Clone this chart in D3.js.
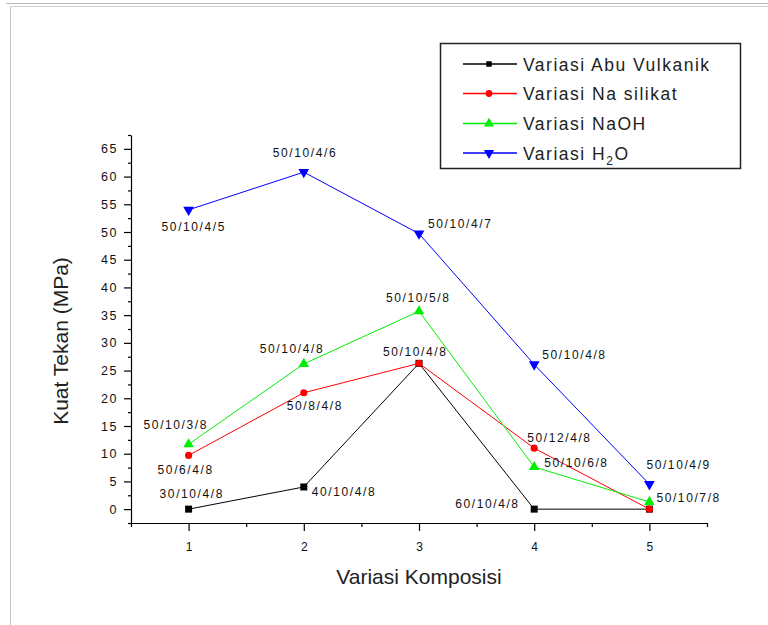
<!DOCTYPE html>
<html>
<head>
<meta charset="utf-8">
<script src="https://cdn.jsdelivr.net/npm/d3@7"></script>
<style>
  body { margin: 0; background: #fff; }
  svg { display: block; font-family: "Liberation Sans", Arial, sans-serif; }
  .axis path, .axis line { stroke: #000; stroke-width: 1.2; }
</style>
</head>
<body>
<svg id="chart" width="768" height="625"></svg>
<script>
// data (Kuat Tekan, MPa)
var komposisi = [1, 2, 3, 4, 5];
var abuVulkanik = [0, 4.0, 26.3, 0, 0];
var naSilikat = [9.7, 21.0, 26.3, 11.0, 0];
var naOH = [11.7, 26.2, 35.7, 7.6, 1.3];
var h2o = [54.0, 60.8, 49.7, 26.1, 4.5];

var abuLabels = ["30/10/4/8", "40/10/4/8", "", "60/10/4/8", ""];
var naSilikatLabels = ["50/6/4/8", "50/8/4/8", "50/10/4/8", "50/12/4/8", ""];
var naOHLabels = ["50/10/3/8", "50/10/4/8", "50/10/5/8", "50/10/6/8", "50/10/7/8"];
var h2oLabels = ["50/10/4/5", "50/10/4/6", "50/10/4/7", "50/10/4/8", "50/10/4/9"];

var namaSeri = ["Variasi Abu Vulkanik", "Variasi Na silikat", "Variasi NaOH", "Variasi H2O"];
var yTickValues = [0, 5, 10, 15, 20, 25, 30, 35, 40, 45, 50, 55, 60, 65];
var xTickValues = [1, 2, 3, 4, 5];

// label placement (pixels from the point, text start / baseline)
var abuOffsets = [[-29, -11], [8, 9], null, [-79, -1], null];
var naSilikatOffsets = [[-31, 19], [-17, 17], [-36, -7], [-7, -6], null];
var naOHOffsets = [[-45, -15], [-44, -11], [-33, -9], [10, 0], [7, 0]];
var h2oOffsets = [[-27, 21], [-31, -15], [9, -6], [8, -5], [-3, -15]];

var svg = d3.select("#chart");

// grey frame of the original picture
svg.append("line").attr("x1", 6).attr("x2", 768).attr("y1", 3.5).attr("y2", 3.5)
  .attr("stroke", "#b8b8b8").attr("stroke-width", 1);
svg.append("line").attr("x1", 10.5).attr("x2", 768).attr("y1", 6.5).attr("y2", 6.5)
  .attr("stroke", "#cfcfcf").attr("stroke-width", 1);
svg.append("line").attr("x1", 10.5).attr("x2", 10.5).attr("y1", 6.5).attr("y2", 625)
  .attr("stroke", "#c4c4c4").attr("stroke-width", 1);

var x = d3.scaleLinear().domain([0.5, 5.5]).range([131, 707]);
var y = d3.scaleLinear().domain([-2.5, 67.5]).range([523, 135]);

// y axis
var yMinor = d3.range(-2.5, 68, 2.5).filter(function(v) { return v % 5 !== 0; });
svg.append("g").attr("class", "axis").attr("transform", "translate(131,0)")
  .call(d3.axisLeft(y).tickValues(yMinor).tickSize(3).tickSizeOuter(0).tickFormat(""));
var gy = svg.append("g").attr("class", "axis").attr("transform", "translate(131,0)")
  .call(d3.axisLeft(y).tickValues(yTickValues).tickSize(7).tickSizeOuter(0).tickFormat(d3.format("d")));
gy.select(".domain").remove();
gy.selectAll("text")
  .attr("x", -13)
  .attr("font-size", 12.5)
  .attr("letter-spacing", "1.6px")
  .attr("font-family", "Liberation Sans, Arial, sans-serif")
  .attr("fill", "#111");

// x axis
var xMinor = d3.range(0.5, 5.6, 1);
svg.append("g").attr("class", "axis").attr("transform", "translate(0,523)")
  .call(d3.axisBottom(x).tickValues(xMinor).tickSize(4).tickSizeOuter(0).tickFormat(""));
var gx = svg.append("g").attr("class", "axis").attr("transform", "translate(0,523)")
  .call(d3.axisBottom(x).tickValues(xTickValues).tickSize(8).tickSizeOuter(0).tickFormat(d3.format("d")));
gx.select(".domain").remove();
gx.selectAll("text")
  .attr("y", 19)
  .attr("font-size", 12)
  .attr("font-family", "Liberation Sans, Arial, sans-serif")
  .attr("fill", "#111");

// axis titles
svg.append("text")
  .attr("transform", "translate(68,341) rotate(-90)")
  .attr("text-anchor", "middle")
  .attr("font-size", 21)
  .attr("fill", "#222")
  .text("Kuat Tekan (MPa)");
svg.append("text")
  .attr("x", 419).attr("y", 584)
  .attr("text-anchor", "middle")
  .attr("font-size", 21)
  .attr("fill", "#222")
  .text("Variasi Komposisi");

var seri = [
  { nama: namaSeri[0], nilai: abuVulkanik, label: abuLabels, off: abuOffsets, warna: "#000000", simbol: d3.symbolSquare, ukuran: 49, putar: 0 },
  { nama: namaSeri[1], nilai: naSilikat, label: naSilikatLabels, off: naSilikatOffsets, warna: "#ff0000", simbol: d3.symbolCircle, ukuran: 40, putar: 0 },
  { nama: namaSeri[2], nilai: naOH, label: naOHLabels, off: naOHOffsets, warna: "#00ee00", simbol: d3.symbolTriangle, ukuran: 48, putar: 0 },
  { nama: namaSeri[3], nilai: h2o, label: h2oLabels, off: h2oOffsets, warna: "#0000ff", simbol: d3.symbolTriangle, ukuran: 50, putar: 180 }
];

var garis = d3.line()
  .x(function(d, i) { return x(komposisi[i]); })
  .y(function(d) { return y(d); });

for (var s = 0; s < seri.length; s++) {
  var sr = seri[s];
  svg.append("path")
    .attr("d", garis(sr.nilai))
    .attr("fill", "none")
    .attr("stroke", sr.warna)
    .attr("stroke-width", 1);

  svg.append("g").selectAll("path")
    .data(sr.nilai)
    .join("path")
    .attr("d", d3.symbol().type(sr.simbol).size(sr.ukuran))
    .attr("transform", function(d, i) {
      return "translate(" + x(komposisi[i]) + "," + y(d) + ") rotate(" + sr.putar + ")";
    })
    .attr("fill", sr.warna);
}

// point labels on top
for (var s = 0; s < seri.length; s++) {
  var sr = seri[s];
  for (var i = 0; i < sr.label.length; i++) {
    if (!sr.label[i]) continue;
    svg.append("text")
      .attr("x", x(komposisi[i]) + sr.off[i][0])
      .attr("y", y(sr.nilai[i]) + sr.off[i][1])
      .attr("font-size", 12)
      .attr("letter-spacing", "1.6px")
      .attr("fill", "#111")
      .text(sr.label[i]);
  }
}

// legend
var lg = svg.append("g");
lg.append("rect")
  .attr("x", 440.5).attr("y", 43.5).attr("width", 300).attr("height", 125)
  .attr("fill", "#fff").attr("stroke", "#222").attr("stroke-width", 1.5);

var legendRows = [64, 93.5, 123.5, 153];
var legendSize = [30, 36, 44, 46];
for (var s = 0; s < seri.length; s++) {
  var sr = seri[s];
  var ry = legendRows[s];
  lg.append("line")
    .attr("x1", 463).attr("x2", 517).attr("y1", ry).attr("y2", ry)
    .attr("stroke", sr.warna).attr("stroke-width", s === 0 ? 1.6 : 1.3);
  lg.append("path")
    .attr("d", d3.symbol().type(sr.simbol).size(legendSize[s]))
    .attr("transform", "translate(489," + ry + ") rotate(" + sr.putar + ")")
    .attr("fill", sr.warna);
  var t = lg.append("text")
    .attr("x", 523).attr("y", ry + 6.5)
    .attr("font-size", 17.5)
    .attr("letter-spacing", "1.5px")
    .attr("fill", "#222");
  if (sr.nama.slice(-3) === "H2O") {
    t.append("tspan").text(sr.nama.slice(0, -2));
    t.append("tspan").attr("dy", 5).attr("font-size", 12).text("2");
    t.append("tspan").attr("dy", -5).text("O");
  } else {
    t.text(sr.nama);
  }
}
</script>
</body>
</html>
